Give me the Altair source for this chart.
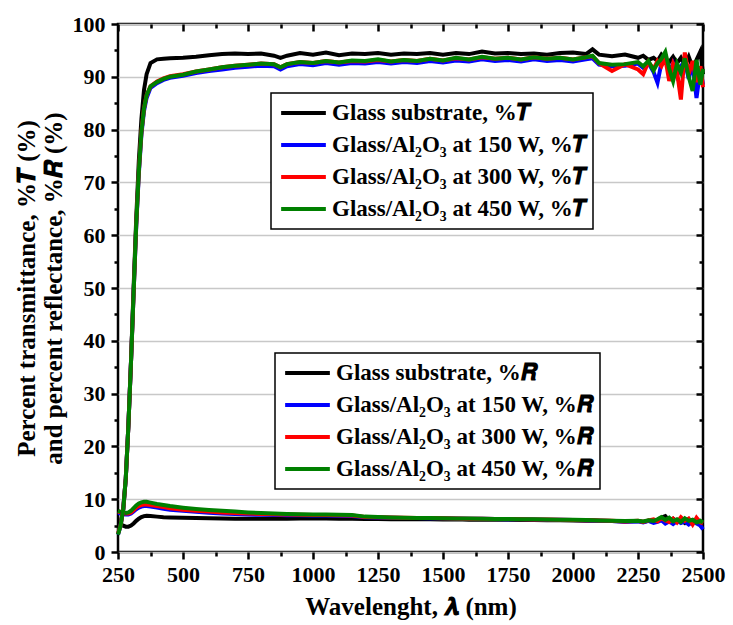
import altair as alt
import pandas as pd

# ---------------- data ----------------
wavelength = [250, 260, 270, 280, 290, 300, 310, 320, 330, 340, 350, 360, 375, 400, 425, 450,
              500, 550, 600, 650, 700, 750, 800, 850, 875, 900, 950, 1000, 1050, 1100, 1150, 1200,
              1250, 1300, 1350, 1400, 1450, 1500, 1550, 1600, 1650, 1700, 1750, 1800, 1850, 1900,
              1950, 2000, 2050, 2075, 2100, 2150, 2200, 2250, 2270, 2290, 2310, 2325, 2340, 2355,
              2370, 2385, 2400, 2415, 2430, 2445, 2460, 2475, 2490, 2500]

t_glass = [4.5, 5.5, 8.0, 14.0, 24.0, 36.0, 50.0, 63.0, 74.0, 82.0, 87.5, 90.5, 92.6, 93.3, 93.4, 93.5,
           93.6, 93.8, 94.1, 94.3, 94.4, 94.3, 94.4, 94.0, 93.6, 94.0, 94.5, 94.2, 94.6, 94.1, 94.4, 94.3,
           94.5, 94.2, 94.4, 94.3, 94.5, 94.2, 94.5, 94.3, 94.8, 94.4, 94.5, 94.3, 94.4, 94.2,
           94.5, 94.6, 94.3, 95.2, 94.2, 93.9, 94.2, 93.6, 94.0, 93.2, 93.6, 93.0, 94.2, 93.4,
           92.8, 93.8, 92.6, 93.6, 92.2, 93.8, 91.8, 93.2, 94.8, 90.5]
t_150 = [3.3, 5.0, 8.0, 14.0, 24.0, 36.0, 49.0, 61.5, 71.5, 79.0, 83.5, 86.0, 87.9, 88.8, 89.4, 89.8,
         90.2, 90.7, 91.1, 91.4, 91.7, 91.9, 92.1, 92.0, 91.4, 92.0, 92.4, 92.2, 92.6, 92.3, 92.6, 92.5,
         92.8, 92.5, 92.8, 92.6, 93.0, 92.7, 93.1, 92.9, 93.3, 93.0, 93.2, 92.9, 93.3, 93.0,
         93.2, 92.9, 93.3, 93.5, 92.3, 92.0, 92.1, 92.5, 91.7, 92.6, 90.9, 88.9, 92.6, 93.8,
         91.0, 92.5, 90.2, 92.0, 93.0, 89.6, 92.6, 86.0, 91.5, 88.5]
t_300 = [3.5, 5.0, 8.0, 14.0, 24.0, 36.0, 49.0, 62.0, 72.0, 79.5, 84.0, 86.5, 88.2, 89.1, 89.7, 90.1,
         90.5, 91.0, 91.4, 91.8, 92.1, 92.3, 92.5, 92.4, 91.8, 92.4, 92.8, 92.6, 93.0, 92.7, 93.0, 92.9,
         93.2, 92.9, 93.2, 93.0, 93.4, 93.1, 93.5, 93.3, 93.7, 93.4, 93.6, 93.3, 93.7, 93.4,
         93.6, 93.3, 93.7, 93.9, 92.6, 91.1, 92.4, 91.4, 90.5, 92.8, 91.5, 93.0, 92.0, 93.5,
         89.2, 92.5, 91.0, 85.7, 94.6, 90.5, 93.0, 89.0, 92.0, 88.0]
t_450 = [3.3, 5.0, 8.0, 14.0, 24.0, 36.0, 49.0, 62.0, 72.0, 79.5, 84.0, 86.5, 88.2, 89.0, 89.6, 90.0,
         90.4, 91.0, 91.4, 91.8, 92.1, 92.3, 92.5, 92.4, 91.8, 92.4, 92.8, 92.6, 93.0, 92.7, 93.1, 93.0,
         93.3, 92.9, 93.2, 93.0, 93.4, 93.1, 93.6, 93.3, 93.8, 93.4, 93.6, 93.3, 93.7, 93.4,
         93.6, 93.3, 93.7, 94.0, 92.6, 92.3, 92.4, 92.8, 92.0, 93.0, 91.2, 92.6, 93.4, 94.7,
         91.5, 89.2, 92.5, 90.8, 93.5, 90.0, 87.3, 93.2, 88.5, 91.5]

r_glass = [5.6, 5.3, 5.0, 4.8, 4.8, 5.0, 5.4, 5.9, 6.3, 6.6, 6.8, 6.85, 6.8, 6.7, 6.6, 6.55,
           6.5, 6.45, 6.4, 6.35, 6.3, 6.3, 6.3, 6.3, 6.3, 6.3, 6.35, 6.35, 6.35, 6.3, 6.3, 6.25,
           6.25, 6.2, 6.25, 6.2, 6.2, 6.15, 6.2, 6.1, 6.15, 6.1, 6.1, 6.05, 6.05, 6.0,
           6.0, 5.95, 5.9, 5.95, 5.9, 5.85, 5.8, 5.85, 5.7, 5.9, 5.8, 6.1, 6.5, 6.8,
           5.9, 6.3, 5.7, 6.0, 5.5, 6.2, 5.6, 6.0, 5.5, 5.2]
r_150 = [7.4, 7.3, 7.2, 7.1, 7.1, 7.3, 7.7, 8.1, 8.4, 8.6, 8.7, 8.7, 8.6, 8.4, 8.2, 8.0,
         7.8, 7.6, 7.45, 7.3, 7.2, 7.1, 7.05, 7.0, 7.0, 6.95, 6.95, 6.9, 6.9, 6.85, 6.8, 6.6,
         6.55, 6.5, 6.45, 6.45, 6.4, 6.4, 6.35, 6.3, 6.3, 6.25, 6.2, 6.2, 6.15, 6.1,
         6.1, 6.05, 6.0, 5.95, 5.9, 5.85, 5.75, 5.8, 5.6, 5.9, 5.5, 5.7, 6.0, 5.4,
         5.8, 5.3, 5.9, 5.5, 5.8, 5.2, 5.7, 5.4, 5.0, 4.3]
r_300 = [7.6, 7.5, 7.4, 7.3, 7.3, 7.5, 7.9, 8.4, 8.7, 8.9, 9.0, 9.0, 8.9, 8.7, 8.5, 8.3,
         8.0, 7.8, 7.65, 7.5, 7.4, 7.3, 7.2, 7.15, 7.1, 7.1, 7.05, 7.0, 7.0, 6.95, 6.9, 6.65,
         6.6, 6.55, 6.5, 6.45, 6.45, 6.4, 6.35, 6.3, 6.3, 6.25, 6.25, 6.2, 6.15, 6.15,
         6.1, 6.05, 6.0, 6.0, 5.95, 5.9, 5.8, 5.9, 5.7, 6.0, 6.2, 5.8, 6.4, 6.0,
         5.7, 6.3, 5.6, 6.6, 5.9, 6.3, 5.2, 6.5, 5.6, 5.4]
r_450 = [7.8, 7.6, 7.5, 7.4, 7.5, 7.8, 8.3, 8.8, 9.2, 9.4, 9.5, 9.5, 9.35, 9.1, 8.9, 8.7,
         8.4, 8.15, 7.95, 7.8, 7.65, 7.5, 7.4, 7.3, 7.25, 7.2, 7.15, 7.1, 7.1, 7.05, 7.0, 6.7,
         6.65, 6.55, 6.5, 6.45, 6.45, 6.4, 6.35, 6.35, 6.3, 6.25, 6.25, 6.2, 6.2, 6.15,
         6.1, 6.1, 6.05, 6.0, 5.95, 5.9, 5.85, 5.9, 5.8, 6.0, 5.9, 6.2, 6.6, 6.1,
         6.5, 5.8, 6.2, 5.7, 6.4, 5.9, 6.1, 5.6, 5.9, 5.6]

labels_T = ["Glass substrate, %\U0001D47B",
            "Glass/Al\u2082O\u2083 at 150 W, %\U0001D47B",
            "Glass/Al\u2082O\u2083 at 300 W, %\U0001D47B",
            "Glass/Al\u2082O\u2083 at 450 W, %\U0001D47B"]
labels_R = ["Glass substrate, %\U0001D479",
            "Glass/Al\u2082O\u2083 at 150 W, %\U0001D479",
            "Glass/Al\u2082O\u2083 at 300 W, %\U0001D479",
            "Glass/Al\u2082O\u2083 at 450 W, %\U0001D479"]
line_colors = ["#000000", "#0000ff", "#ff0000", "#008000"]

x_major = [250, 500, 750, 1000, 1250, 1500, 1750, 2000, 2250, 2500]
x_minor = [375, 625, 875, 1125, 1375, 1625, 1875, 2125, 2375]
y_major = [0, 10, 20, 30, 40, 50, 60, 70, 80, 90, 100]
y_minor = [5, 15, 25, 35, 45, 55, 65, 75, 85, 95]

x_title = "Wavelenght, \U0001D740 (nm)"
y_title = ["Percent transmittance, %\U0001D47B (%)", "and percent reflectance, %\U0001D479 (%)"]

# ---------------- tables ----------------
def build(labels, series):
    rows = []
    for k, (lab, vals) in enumerate(zip(labels, series)):
        for w, v in zip(wavelength, vals):
            rows.append({"wl": w, "val": v, "series": lab, "k": k})
    return pd.DataFrame(rows)

df_T = build(labels_T, [t_glass, t_150, t_300, t_450])
df_R = build(labels_R, [r_glass, r_150, r_300, r_450])

W, H = 585, 528
FONT = "'Liberation Serif', 'DejaVu Serif', serif"
xs = alt.Scale(domain=[250, 2500], nice=False, zero=False)
ys = alt.Scale(domain=[0, 100], nice=False, zero=False)


def legend(lx, ly):
    return alt.Legend(orient="none", legendX=lx, legendY=ly, title=None,
                      symbolType="stroke", symbolSize=2000, symbolStrokeWidth=4,
                      symbolOffset=3,
                      labelFont=FONT, labelFontSize=23, labelFontWeight="bold",
                      labelColor="black", labelLimit=500, padding=5, rowPadding=2,
                      clipHeight=30, labelOffset=4, strokeColor="black",
                      fillColor="white", cornerRadius=0)


noax_x = alt.X("wl:Q", scale=xs, axis=None)
noax_y = alt.Y("val:Q", scale=ys, axis=None)

lines_R = alt.Chart(df_R).mark_line(strokeWidth=4).encode(
    x=noax_x, y=noax_y,
    color=alt.Color("series:N", scale=alt.Scale(domain=labels_R, range=line_colors),
                    legend=legend(157, 329)),
    order="k:Q",
)
lines_T = alt.Chart(df_T).mark_line(strokeWidth=4).encode(
    x=noax_x, y=noax_y,
    color=alt.Color("series:N", scale=alt.Scale(domain=labels_T, range=line_colors),
                    legend=legend(153, 69)),
    order="k:Q",
)

# axes layers (invisible marks)
ax_main = alt.Chart(df_T).mark_point(opacity=0).encode(
    x=alt.X("wl:Q", scale=xs, axis=alt.Axis(orient="bottom", values=x_major, format="d",
                                            tickSize=7, labelPadding=5, labelFlush=False,
                                            labelOverlap=False, grid=False, title=x_title,
                                            titlePadding=9)),
    y=alt.Y("val:Q", scale=ys, axis=alt.Axis(orient="left", values=y_major, format="d",
                                             tickSize=7, labelPadding=6, labelFlush=False,
                                             labelOverlap=False, grid=True, title=y_title,
                                             titlePadding=6, titleLineHeight=27)),
)
ax_minor = alt.Chart(df_T).mark_point(opacity=0).encode(
    x=alt.X("wl:Q", scale=xs, axis=alt.Axis(orient="bottom", values=x_minor, labels=False,
                                            tickSize=4, grid=False, title=None)),
    y=alt.Y("val:Q", scale=ys, axis=alt.Axis(orient="left", values=y_minor, labels=False,
                                             tickSize=4, grid=False, title=None)),
)
ax_top = alt.Chart(df_T).mark_point(opacity=0).encode(
    x=alt.X("wl:Q", scale=xs, axis=alt.Axis(orient="bottom", offset=-H, values=x_major,
                                            labels=False, tickSize=7, grid=False, title=None)),
    y=alt.Y("val:Q", scale=ys, axis=alt.Axis(orient="left", offset=-W, values=y_major,
                                             labels=False, tickSize=7, grid=False, title=None)),
)
ax_top_minor = alt.Chart(df_T).mark_point(opacity=0).encode(
    x=alt.X("wl:Q", scale=xs, axis=alt.Axis(orient="bottom", offset=-H, values=x_minor,
                                            labels=False, tickSize=4, grid=False, title=None)),
    y=alt.Y("val:Q", scale=ys, axis=alt.Axis(orient="left", offset=-W, values=y_minor,
                                             labels=False, tickSize=4, grid=False, title=None)),
)

chart = alt.layer(ax_main, ax_minor, ax_top, ax_top_minor, lines_R, lines_T).resolve_scale(
    color="independent"
).resolve_axis(
    x="independent", y="independent"
).resolve_legend(
    color="independent"
).properties(
    width=W, height=H,
    autosize=alt.AutoSizeParams(type="none"),
    padding={"left": 118, "top": 24, "right": 30, "bottom": 73},
    background="white",
).configure_view(
    stroke="black", strokeWidth=2.5
).configure_axis(
    domain=False, tickColor="black", tickWidth=2.5,
    labelFont=FONT, labelFontSize=22, labelFontWeight="bold", labelColor="black",
    titleFont=FONT, titleFontSize=25, titleFontWeight="bold", titleColor="black",
    gridColor="#c8c8c8", gridWidth=1.5,
).configure_legend(
    strokeWidth=1.5
)

chart.save("out.html", embed_options={"renderer": "svg", "actions": False})
